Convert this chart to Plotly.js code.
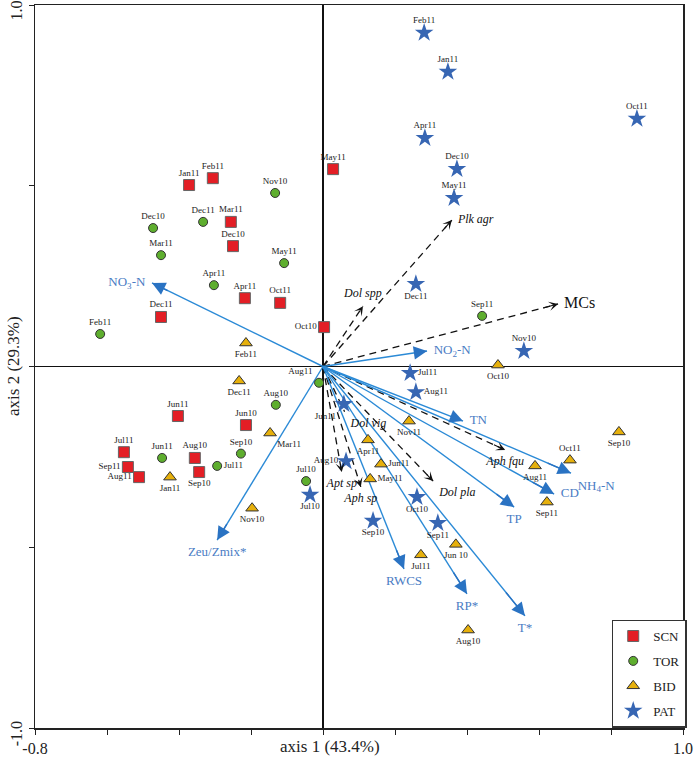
<!DOCTYPE html>
<html><head><meta charset="utf-8">
<script src="https://cdn.plot.ly/plotly-3.0.1.min.js"></script>
<style>html,body{margin:0;padding:0;background:#fff}#chart{width:700px;height:764px}</style>
</head><body><div id="chart"></div>
<script>
// ---- Sites (sample scores) ----
const scnLabels = ['Jan11','Feb11','Mar11','Dec10','Apr11','Oct11','Dec11','May11','Oct10','Jun11','Jun10','Jul11','Sep11','Aug11','Aug10','Sep10'];
const scnX = [-0.372,-0.306,-0.256,-0.250,-0.217,-0.119,-0.450,0.028,0.003,-0.403,-0.214,-0.553,-0.542,-0.511,-0.356,-0.344];
const scnY = [0.502,0.521,0.400,0.333,0.189,0.176,0.137,0.546,0.109,-0.137,-0.162,-0.237,-0.278,-0.306,-0.253,-0.292];

const torLabels = ['Nov10','Dec11','Dec10','Mar11','May11','Apr11','Feb11','Sep11','Aug11','Aug10','Sep10','Jun11','Jul11','Jul10'];
const torX = [-0.133,-0.333,-0.472,-0.450,-0.108,-0.303,-0.619,0.442,-0.011,-0.131,-0.228,-0.447,-0.294,-0.047];
const torY = [0.480,0.400,0.383,0.308,0.286,0.225,0.090,0.140,-0.045,-0.106,-0.241,-0.253,-0.275,-0.317];

const bidLabels = ['Feb11','Dec11','Mar11','Jan11','Nov10','Oct10','Sep10','Oct11','Aug11','Sep11','Jun 10','Nov11','Apr11','Jun11','May11','Jul11','Aug10'];
const bidX = [-0.214,-0.233,-0.147,-0.425,-0.197,0.486,0.822,0.686,0.589,0.622,0.369,0.239,0.125,0.161,0.131,0.272,0.403];
const bidY = [0.065,-0.040,-0.184,-0.306,-0.392,0.004,-0.181,-0.259,-0.275,-0.375,-0.492,-0.151,-0.203,-0.270,-0.311,-0.521,-0.729];

const patLabels = ['Feb11','Jan11','Oct11','Apr11','Dec10','May11','Dec11','Nov10','Jul11','Aug11','Jun11','Aug10','Jul10','Oct10','Sep11','Sep10'];
const patX = [0.281,0.347,0.872,0.283,0.372,0.364,0.258,0.558,0.242,0.258,0.058,0.064,-0.036,0.261,0.319,0.139];
const patY = [0.923,0.815,0.685,0.632,0.546,0.466,0.228,0.043,-0.018,-0.071,-0.104,-0.262,-0.355,-0.361,-0.433,-0.427];

// ---- Environmental variables (blue solid arrows) ----
const envNames = ['NO<sub>3</sub>-N','NO<sub>2</sub>-N','TN','NH<sub>4</sub>-N','CD','TP','T*','RP*','RWCS','Zeu/Zmix*'];
const envX = [-0.475,0.289,0.389,0.689,0.642,0.531,0.561,0.400,0.225,-0.294];
const envY = [0.231,0.043,-0.151,-0.295,-0.353,-0.389,-0.690,-0.629,-0.560,-0.480];

// ---- Species (black dashed arrows) ----
const spNames = ['<i>Plk agr</i>','MCs','<i>Dol spp</i>','<i>Dol vig</i>','<i>Apt sp</i>','<i>Aph sp</i>','<i>Dol pla</i>','<i>Aph fqu</i>'];
const spX = [0.358,0.653,0.111,0.060,0.052,0.105,0.306,0.506];
const spY = [0.405,0.173,0.167,-0.125,-0.292,-0.333,-0.317,-0.231];

// ---- Axis ticks ----
const xTickVals = [-0.8,1.0];
const xTickText = ['-0.8','1.0'];
const xMinorVals = [-0.6,-0.4,-0.2,0,0.2,0.4,0.6,0.8];
const yTickVals = [-1.0,1.0];
const yTickText = ['-1.0','1.0'];
const yMinorVals = [-0.5,0,0.5];

// label placement (style)
const scnPos = ['top center','top center','top center','top center','top center','top center','top center','top center','middle left','top center','top center','top center','middle left','middle left','top center','bottom center'];
const torPos = ['top center','top center','top center','top center','top center','top center','top center','top center','top left','top center','top center','top center','middle right','top center'];
const bidPos = ['bottom center','bottom center','bottom right','bottom center','bottom center','bottom center','bottom center','top center','bottom center','bottom center','bottom center','bottom center','bottom center','middle right','middle right','bottom center','bottom center'];
const patPos = ['top center','top center','top center','top center','top center','top center','bottom center','top center','middle right','middle right','bottom left','middle left','bottom center','bottom center','bottom center','bottom center'];
const envPos = ['middle left','middle right','middle right','bottom right','middle right','bottom center','bottom center','bottom center','bottom center','bottom center'];
const spPos = ['middle right','middle right','top center','bottom right','bottom center','bottom center','bottom right','bottom center'];

const SERIF = '"Liberation Serif","Times New Roman",Times,serif';
const BLUE_LINE = '#2b8ad6', BLUE_HEAD = '#2a73c3', BLUE_TXT = '#4a7cc4';

const traces = [];
const annotations = [];

// species dashed lines
spX.forEach((x, i) => {
  traces.push({type:'scatter', mode:'lines', x:[0, x], y:[0, spY[i]], showlegend:false, hoverinfo:'skip',
    line:{color:'#111', width:1.3, dash:'7px,5px'}});
  annotations.push({x:x, y:spY[i], ax:x*0.93, ay:spY[i]*0.93, xref:'x', yref:'y', axref:'x', ayref:'y',
    text:'', showarrow:true, arrowhead:3, arrowsize:1.4, arrowwidth:1.1, arrowcolor:'#111'});
});
// env solid lines
envX.forEach((x, i) => {
  traces.push({type:'scatter', mode:'lines', x:[0, x], y:[0, envY[i]], showlegend:false, hoverinfo:'skip',
    line:{color:BLUE_LINE, width:1.4}});
  annotations.push({x:x, y:envY[i], ax:x*0.9, ay:envY[i]*0.9, xref:'x', yref:'y', axref:'x', ayref:'y',
    text:'', showarrow:true, arrowhead:2, arrowsize:1.9, arrowwidth:1.4, arrowcolor:BLUE_HEAD});
});

function sites(name, xs, ys, marker) {
  traces.push({type:'scatter', mode:'markers', name:name, x:xs, y:ys, marker:marker, legendgroup:name, cliponaxis:false});
}
sites('SCN', scnX, scnY, {symbol:'square', size:11, color:'#e31e25', line:{color:'#666', width:1}});
sites('TOR', torX, torY, {symbol:'circle', size:9, color:'#5eae2e', line:{color:'#333', width:1}});
sites('BID', bidX, bidY, {symbol:'triangle-up', size:11, color:'#e6b00c', line:{color:'#333', width:1}});
sites('PAT', patX, patY, {symbol:'star', size:14, color:'#3766b3', line:{color:'#3766b3', width:0}});

// labels: invisible markers of given size give the text its offset from the point
function labels(xs, ys, txt, pos, font, gap) {
  traces.push({type:'scatter', mode:'markers+text', x:xs, y:ys, text:txt, textposition:pos, textfont:font,
    marker:{size:gap, color:'rgba(0,0,0,0)'},
    showlegend:false, hoverinfo:'skip', cliponaxis:false});
}
const siteFont = {family:SERIF, size:9, color:'#1a1a1a'};
labels(scnX, scnY, scnLabels, scnPos, siteFont, 10);
labels(torX, torY, torLabels, torPos, siteFont, 9);
labels(bidX, bidY, bidLabels, bidPos, siteFont, 10);
labels(patX, patY, patLabels, patPos, siteFont, 11);
labels(envX, envY, envNames, envPos, {family:SERIF, size:13, color:BLUE_TXT}, 9);
labels(spX, spY, spNames, spPos, {family:SERIF, size:spNames.map(n => n === 'MCs' ? 16 : 12), color:'#111'}, 8);

annotations.push({text:'axis 1 (43.4%)', xref:'paper', yref:'paper', x:0.455, y:0, yanchor:'top', yshift:-7,
  showarrow:false, font:{family:SERIF, size:17, color:'#222'}});
annotations.push({text:'axis 2 (29.3%)', xref:'paper', yref:'paper', x:0, y:0.5, xanchor:'right', xshift:-10, textangle:-90,
  showarrow:false, font:{family:SERIF, size:17, color:'#222'}});

const layout = {
  width:700, height:764,
  margin:{l:35, r:17, t:5, b:36},
  paper_bgcolor:'#fff', plot_bgcolor:'#fff',
  font:{family:SERIF, color:'#222'},
  showlegend:true,
  legend:{x:0.89, y:0.15, xanchor:'left', yanchor:'top', bgcolor:'#fff', bordercolor:'#333', borderwidth:1.5,
    font:{family:SERIF, size:13, color:'#222'}, traceorder:'grouped', tracegroupgap:5, itemwidth:30},
  xaxis:{range:[-0.8,1.0], tickmode:'array', tickvals:xTickVals, ticktext:xTickText, ticks:'outside', ticklen:5, tickcolor:'#222',
    minor:{tickmode:'array', tickvals:xMinorVals, ticks:'outside', ticklen:5, tickcolor:'#222', showgrid:false},
    showgrid:false, zeroline:true, zerolinecolor:'#111', zerolinewidth:1.5,
    showline:true, mirror:true, linecolor:'#222', linewidth:1.5, tickfont:{family:SERIF, size:16, color:'#222'}},
  yaxis:{range:[-1.0,1.0], tickmode:'array', tickvals:yTickVals, ticktext:yTickText, ticks:'outside', ticklen:5, tickcolor:'#222',
    minor:{tickmode:'array', tickvals:yMinorVals, ticks:'outside', ticklen:5, tickcolor:'#222', showgrid:false},
    tickangle:-90, ticklabelshift:8, ticklabeloverflow:'allow',
    showgrid:false, zeroline:true, zerolinecolor:'#111', zerolinewidth:1.5,
    showline:true, mirror:true, linecolor:'#222', linewidth:1.5, tickfont:{family:SERIF, size:16, color:'#222'}},
  annotations:annotations
};

Plotly.newPlot('chart', traces, layout, {displayModeBar:false, staticPlot:true});
</script>
</body></html>
